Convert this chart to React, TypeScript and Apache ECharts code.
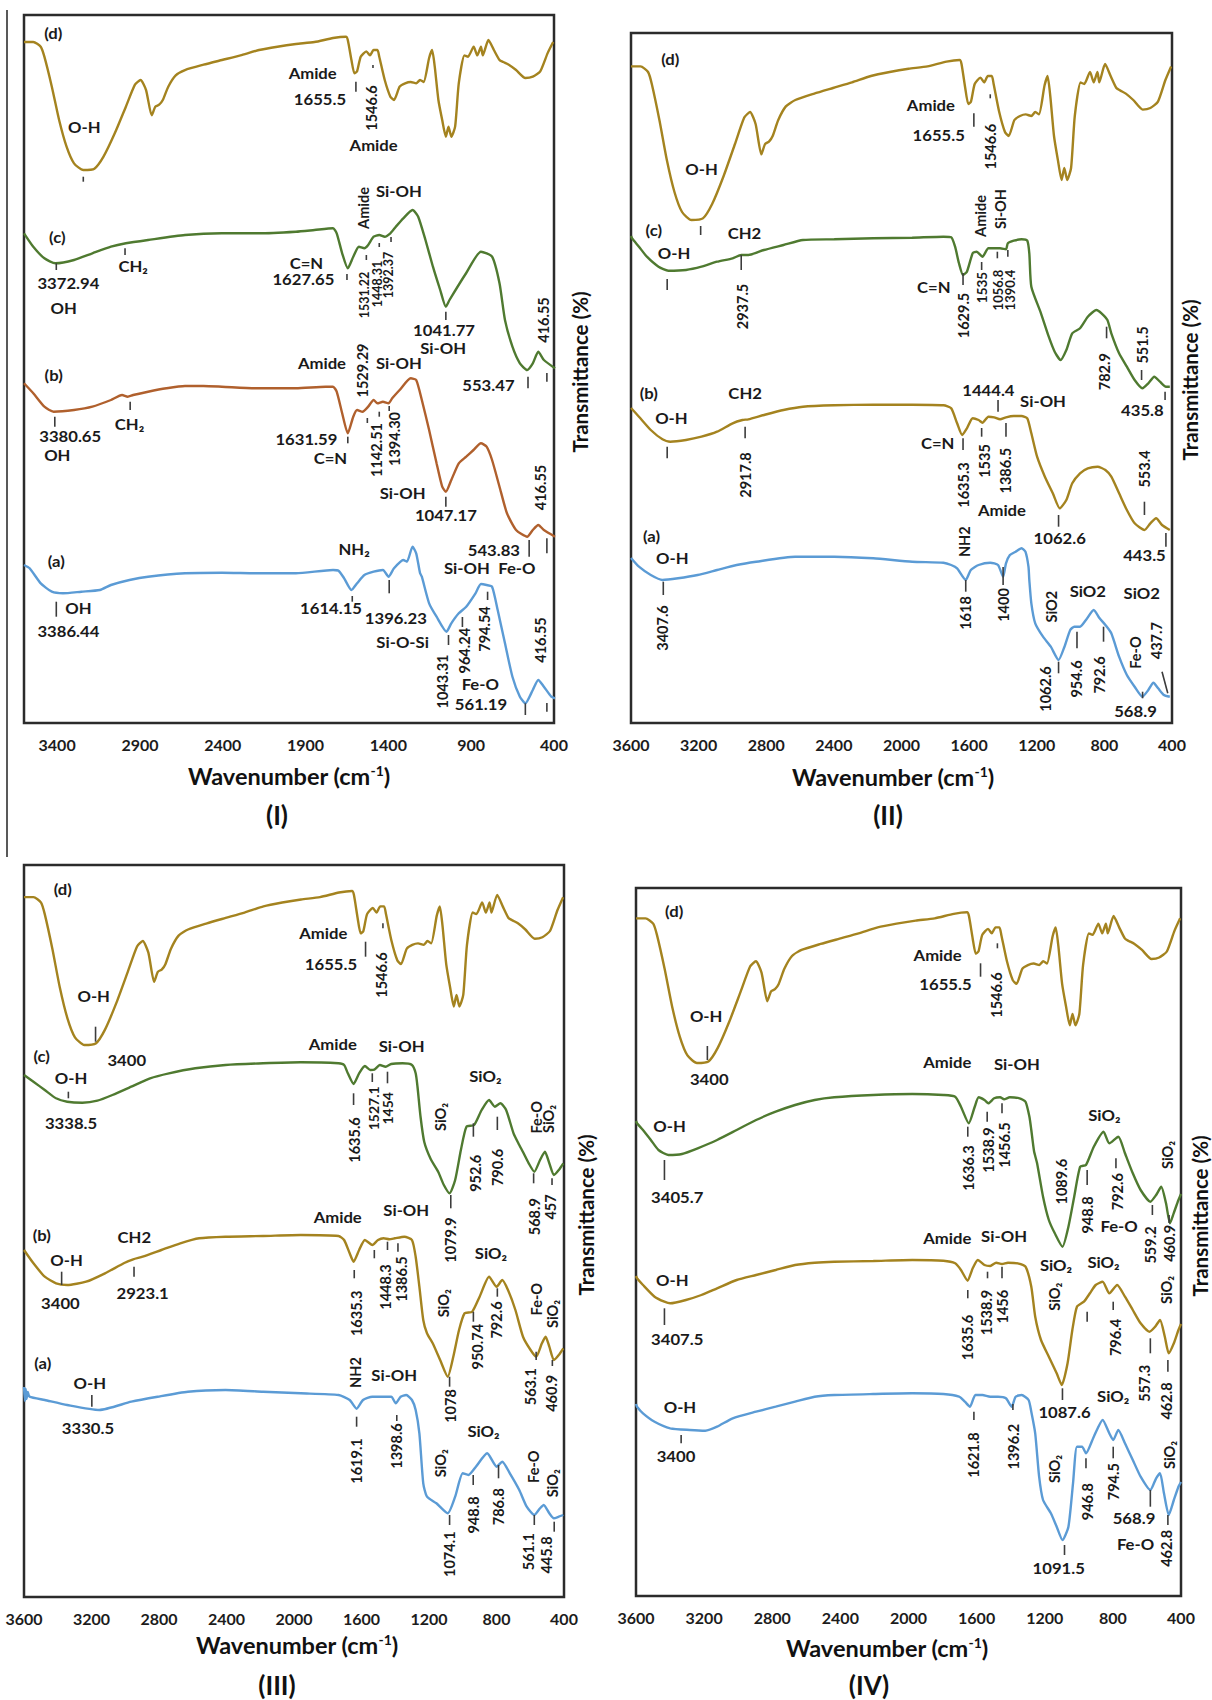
import React, { useEffect, useRef } from "react";
import * as echarts from "echarts";

const FONT = "Lato, 'Open Sans', sans-serif";
const GOLD = "#A4831F";
const GREEN = "#4F7A30";
const BROWN = "#B0602D";
const BLUE = "#5B9BD5";

// shared spectrum (d): relative transmittance 0..100 vs wavenumber
const specD = [
  [3600, 96], [3544, 96], [3499, 92.5], [3477, 85], [3432, 62.5], [3388, 37.5], [3343, 17.5], [3298, 5], [3242, 0], [3175, 1],
  [3120, 10], [3052, 27.5], [2985, 47.5], [2930, 64], [2896, 67.5], [2863, 60], [2829, 41], [2807, 47.5], [2784, 49], [2762, 52.5],
  [2729, 62.5], [2684, 71], [2628, 75], [2516, 79], [2405, 82.5], [2293, 86], [2181, 90], [2070, 92.5], [1958, 94.5], [1846, 96],
  [1734, 99], [1656, 100], [1645, 97.5], [1623, 82.5], [1605, 72.5], [1589, 74], [1567, 85], [1533, 89], [1511, 86], [1489, 90],
  [1466, 90], [1455, 85], [1422, 67.5], [1388, 55], [1366, 52.5], [1332, 62.5], [1299, 65], [1265, 66], [1232, 65], [1209, 67.5],
  [1187, 66], [1154, 84], [1136, 90], [1120, 77.5], [1098, 52.5], [1075, 37.5], [1053, 25], [1037, 32.5], [1020, 25], [997, 32.5],
  [975, 65], [941, 86], [919, 85], [885, 92.5], [863, 86], [841, 92.5], [830, 86], [796, 97.5], [763, 90], [729, 82.5],
  [707, 81], [673, 79], [629, 75], [573, 69], [528, 70], [483, 74], [439, 87.5], [405, 96],
];
const dOffset = [553, 503, 552, 533];
const dScale = [1.333, 1.6, 1.54, 1.507];

// Panel I
const p1c = [
  [3600, 489.7], [3544, 476.3], [3477, 464.7], [3410, 459.7], [3298, 463], [3187, 469.7], [3075, 476.3], [2985, 479.7], [2851, 483], [2628, 488],
  [2405, 489.7], [2181, 489.7], [1958, 491.3], [1846, 493], [1734, 494.7], [1712, 489.7], [1679, 469.7], [1645, 454.7], [1612, 466.3], [1578, 476.3],
  [1545, 474.7], [1522, 478], [1489, 486.3], [1455, 488], [1422, 486.3], [1388, 489.7], [1355, 496.3], [1310, 504.7], [1254, 513], [1220, 506.3],
  [1176, 483], [1131, 456.3], [1087, 433], [1053, 416.3], [1031, 423], [930, 450], [841, 471.3], [774, 466.3], [729, 439.7], [696, 403],
  [651, 376.3], [606, 359.7], [562, 353], [528, 359.7], [495, 371.3], [461, 363], [394, 354.7],
];
const p1b = [
  [3600, 339.7], [3544, 329.7], [3477, 316.3], [3421, 311.3], [3298, 313], [3187, 316.3], [3075, 323], [3008, 328], [2974, 326.3], [2941, 328],
  [2851, 331.3], [2740, 334.7], [2628, 337], [2516, 337], [2405, 336.3], [2181, 334.7], [1958, 334.7], [1779, 336.3], [1734, 336.3], [1712, 331.3],
  [1679, 309.7], [1645, 289.7], [1612, 306.3], [1589, 313], [1556, 311.3], [1522, 316.3], [1489, 323], [1466, 319.7], [1433, 321.3], [1399, 319.7],
  [1377, 324.7], [1332, 333], [1265, 344.7], [1232, 343], [1198, 323], [1154, 293], [1109, 259.7], [1075, 236.3], [1053, 231.3], [1020, 243],
  [975, 259.7], [930, 266.3], [886, 273], [841, 279.7], [807, 276.3], [774, 263], [729, 236.3], [684, 209.7], [629, 193], [562, 186.3],
  [528, 193], [495, 198], [461, 193], [394, 186.3],
];
const p1a = [
  [3600, 158], [3566, 154.7], [3499, 139.7], [3432, 131.3], [3365, 129.7], [3254, 131.3], [3142, 133], [3075, 138], [2963, 143], [2851, 146.3],
  [2628, 149.7], [2405, 150.3], [2181, 149.7], [1958, 149.7], [1734, 153], [1701, 152.3], [1667, 144.7], [1623, 133], [1589, 139.7], [1545, 148],
  [1489, 151.3], [1433, 153], [1399, 146.3], [1366, 154.7], [1310, 163], [1288, 161.3], [1254, 176.3], [1232, 169.7], [1209, 150], [1198, 146.3],
  [1154, 119.7], [1109, 106.3], [1049, 91.3], [1020, 99.7], [975, 109.7], [930, 116.3], [874, 129.7], [841, 139], [807, 138], [774, 136.3],
  [740, 113], [696, 79.7], [651, 46.3], [606, 26.3], [573, 19.7], [528, 33], [495, 43], [461, 36.3], [416, 26.3], [394, 24.7],
];

// Panel II
const p2c = [
  [3600, 487], [3594, 484.7], [3553, 476.3], [3506, 466.3], [3437, 456.3], [3379, 452.3], [3275, 453], [3183, 456.3], [3091, 461.3], [2999, 464.7],
  [2948, 468], [2906, 468], [2814, 473], [2698, 478], [2583, 483], [2398, 483.7], [2167, 484.7], [1937, 485.3], [1752, 486.3], [1706, 485.7],
  [1683, 476.3], [1660, 459.7], [1636, 448], [1613, 451.3], [1579, 469.7], [1556, 471.3], [1521, 466.3], [1486, 474.7], [1452, 474.7], [1417, 474.7],
  [1382, 473.7], [1371, 479.7], [1336, 482.3], [1290, 483.7], [1256, 482.3], [1244, 469.7], [1232, 436.3], [1175, 409.7], [1129, 386.3], [1094, 371.3],
  [1059, 363], [1025, 373], [990, 389.7], [944, 394.7], [898, 406.3], [847, 413], [817, 409.7], [782, 403], [759, 389.7], [713, 369.7],
  [667, 356.3], [621, 343], [575, 334.7], [540, 339.7], [505, 346.3], [471, 341.3], [436, 336.3], [413, 336.3],
];
const p2b = [
  [3600, 315], [3553, 306.3], [3483, 293], [3414, 283.7], [3368, 281.3], [3275, 283], [3183, 286.3], [3091, 291.3], [2999, 299.7], [2941, 303],
  [2906, 303.7], [2814, 308], [2698, 313], [2583, 316.3], [2398, 317.7], [2167, 318.3], [1937, 318.3], [1752, 317.7], [1706, 314.7], [1671, 299.7],
  [1641, 288], [1613, 294.7], [1579, 304.7], [1544, 303], [1521, 300.3], [1486, 306.3], [1452, 305.7], [1417, 303.7], [1382, 305.7], [1336, 307],
  [1290, 307], [1256, 304.7], [1232, 289.7], [1198, 266.3], [1152, 246.3], [1105, 229.7], [1064, 214.7], [1025, 223], [990, 239.7], [944, 249.7],
  [898, 254.7], [840, 256.3], [794, 253], [759, 246.3], [713, 229.7], [667, 213], [621, 199.7], [563, 193], [528, 199.7], [494, 204.7],
  [459, 198], [413, 193],
];
const p2a = [
  [3600, 165], [3553, 156.3], [3483, 148], [3414, 143], [3322, 144.7], [3206, 148], [3091, 153], [2975, 158], [2860, 161.3], [2629, 166.3],
  [2398, 166.3], [2167, 164.7], [1937, 161.3], [1752, 160.3], [1706, 158], [1671, 154.7], [1620, 143], [1590, 153], [1544, 158], [1475, 160.3],
  [1429, 158], [1399, 146.3], [1382, 159.7], [1359, 168], [1325, 171.3], [1290, 174.7], [1267, 171.3], [1249, 156.3], [1244, 143], [1232, 119.7],
  [1209, 99.7], [1163, 86.3], [1117, 76.3], [1071, 63], [1036, 76.3], [1002, 93], [978, 96.3], [944, 96.3], [909, 103], [863, 113],
  [828, 104.7], [794, 98], [759, 89.7], [713, 66.3], [667, 48], [621, 36.3], [575, 26.3], [540, 33], [510, 40.3], [482, 34.7],
  [448, 28], [413, 26.3],
];

// Panel III
const p3c = [
  [3600, 522], [3544, 515.3], [3477, 507], [3410, 498.7], [3344, 495.3], [3254, 494.3], [3165, 496.3], [3076, 502], [2964, 510.3], [2853, 518.7],
  [2741, 523.7], [2585, 528.7], [2406, 532], [2183, 533.7], [1960, 534.7], [1736, 533.7], [1703, 532], [1681, 523.7], [1647, 513], [1614, 523.7],
  [1580, 531], [1547, 527], [1524, 527.3], [1491, 532], [1457, 530.3], [1424, 533], [1357, 533.7], [1301, 532], [1279, 523.7], [1268, 510],
  [1250, 480], [1228, 455], [1190, 438], [1145, 425], [1112, 412], [1078, 403.7], [1045, 417], [1011, 447], [978, 470.3], [933, 472],
  [888, 487], [844, 497], [810, 490.3], [777, 493.7], [743, 487], [699, 463.7], [665, 452], [643, 445], [609, 433.7], [576, 425.3],
  [542, 437], [513, 445.3], [487, 433.7], [460, 422], [431, 427], [404, 433.7],
];
const p3b = [
  [3600, 347], [3544, 333.7], [3477, 320.3], [3410, 313.7], [3344, 312], [3232, 315.3], [3120, 323.7], [3009, 333.7], [2953, 337.7], [2897, 340.3],
  [2786, 347], [2674, 353.7], [2562, 358.7], [2406, 360.3], [2183, 361], [1960, 362], [1736, 361], [1703, 357], [1670, 343.7], [1647, 335.3],
  [1614, 347], [1580, 357], [1536, 352], [1502, 357], [1469, 358.7], [1435, 357.7], [1402, 358.7], [1346, 360.3], [1301, 357], [1279, 340.3],
  [1257, 310.3], [1234, 277], [1212, 263.7], [1178, 253.7], [1134, 237], [1089, 220.3], [1056, 240.3], [1022, 267], [989, 283.7], [944, 285.3],
  [900, 300.3], [844, 320.3], [799, 310.3], [766, 317], [732, 307], [688, 287], [643, 260.3], [598, 247], [565, 240.3], [531, 253.7],
  [509, 260.3], [487, 250.3], [460, 237], [431, 242], [404, 248.7],
];
const p3a = [
  [3600, 210], [3595, 196], [3590, 208], [3585, 198], [3578, 205], [3567, 200.3], [3477, 197], [3344, 192], [3154, 187], [2964, 195.3],
  [2808, 200.3], [2629, 205.3], [2406, 207], [2183, 205.3], [1960, 203.7], [1736, 202], [1670, 197], [1629, 188.3], [1591, 197], [1536, 200.3],
  [1424, 200.3], [1397, 193.7], [1368, 200.3], [1335, 202], [1301, 197], [1279, 187], [1257, 163.7], [1234, 113.7], [1212, 100.3], [1156, 93.7],
  [1089, 83.7], [1045, 100.3], [1000, 123.7], [966, 122], [922, 130.3], [855, 143.7], [799, 130.3], [766, 135.3], [721, 123.7], [665, 107],
  [621, 90.3], [576, 82], [542, 88.7], [520, 92], [487, 83.7], [460, 78.7], [431, 80.3], [404, 82],
];

// Panel IV
const p4c = [
  [3600, 475], [3594, 472.7], [3559, 466], [3513, 456], [3468, 446], [3410, 441], [3330, 442], [3238, 447.7], [3124, 456], [3009, 466],
  [2895, 476], [2780, 484.3], [2666, 491], [2551, 496], [2436, 498.7], [2207, 501], [1978, 502], [1795, 501], [1726, 499.3], [1692, 489.3],
  [1646, 472.7], [1611, 489.3], [1588, 498.7], [1554, 496], [1531, 492.7], [1497, 497.7], [1462, 498.7], [1439, 496.7], [1405, 498.7], [1348, 497.7],
  [1313, 494.3], [1290, 479.3], [1279, 466], [1263, 445], [1245, 432.7], [1210, 399.3], [1176, 376], [1141, 362.7], [1096, 349.3], [1061, 369.3],
  [1027, 399.3], [992, 429.3], [958, 431], [912, 449.3], [855, 464.3], [821, 452.7], [768, 459.3], [729, 442.7], [683, 422.7], [637, 406],
  [580, 394.3], [546, 401], [516, 409.3], [488, 392.7], [465, 372.7], [443, 382.7], [415, 396], [400, 402],
];
const p4b = [
  [3600, 320], [3594, 317.7], [3559, 311], [3491, 299.3], [3433, 294.3], [3399, 292.7], [3307, 296], [3216, 301], [3124, 307.7], [3009, 316],
  [2895, 321], [2780, 326], [2666, 331], [2551, 333.3], [2436, 334.3], [2207, 335], [1978, 336], [1795, 335.3], [1726, 332.7], [1692, 326],
  [1653, 315.3], [1623, 327.7], [1593, 336], [1554, 331], [1520, 330], [1485, 333.3], [1451, 332], [1416, 333.3], [1359, 332.7], [1313, 329.3],
  [1279, 309.3], [1256, 279.3], [1222, 256], [1176, 239.3], [1130, 222.7], [1100, 211], [1066, 232.7], [1038, 266], [1011, 289.3], [970, 294.3],
  [935, 302.7], [901, 311], [860, 314.3], [821, 302.7], [775, 311], [729, 299.3], [683, 286], [637, 272.7], [585, 264.3], [552, 269.3],
  [523, 276], [495, 259.3], [472, 242.7], [442, 252.7], [415, 266], [400, 272],
];
const p4a = [
  [3600, 192], [3594, 189.3], [3559, 182.7], [3491, 174.3], [3399, 167.7], [3284, 166], [3193, 165.3], [3124, 169.3], [3032, 177.7], [2895, 184.3],
  [2780, 189.3], [2666, 194.3], [2551, 199.3], [2436, 201], [2207, 202], [1978, 202.7], [1795, 202], [1703, 199.3], [1669, 194.3], [1639, 189.3],
  [1607, 201], [1566, 201], [1520, 199.3], [1474, 199.3], [1428, 197.7], [1394, 189.3], [1371, 199.3], [1336, 201], [1295, 196], [1279, 184.3],
  [1256, 162.7], [1233, 119.3], [1210, 96], [1164, 82.7], [1130, 69.3], [1096, 56], [1061, 69.3], [1034, 112.7], [1011, 149.3], [981, 149.3],
  [958, 142.7], [912, 159.3], [860, 176], [821, 162.7], [798, 156], [768, 166], [729, 152.7], [683, 136], [637, 119.3], [580, 106],
  [546, 117.7], [523, 122.7], [500, 102.7], [472, 81], [442, 96], [415, 109.3], [400, 114],
];

// annotations: [text, wavenumber, height, rotated, fontSize?]
const labels1 = [
  ["(d)", 3423, 689.7, 0], ["Amide", 1857, 649.7, 0], ["1655.5", 1813, 624, 0], ["1546.6", 1500, 615, 1], ["Amide", 1489, 578, 0],
  ["O-H", 3236, 595.7, 0], ["Amide", 1549, 515, 1], ["Si-OH", 1337, 531.3, 0], ["(c)", 3399, 485.7, 0], ["3372.94", 3332, 439.7, 0],
  ["CH₂", 2941, 456.3, 0], ["C=N", 1895, 459.7, 0], ["1627.65", 1913, 444, 0], ["1531.22", 1547, 428, 1, 12.5], ["1448.31", 1466, 439, 1, 12.5],
  ["1392.37", 1398, 448, 1, 12.5], ["OH", 3361, 414.7, 0], ["1041.77", 1064, 393, 0], ["Si-OH", 1069, 374.7, 0], ["416.55", 461, 403, 1],
  ["553.47", 796, 338, 0], ["Amide", 1801, 359.7, 0], ["1529.29", 1556, 352.5, 1], ["Si-OH", 1337, 359.7, 0], ["(b)", 3421, 348, 0],
  ["3380.65", 3321, 287, 0], ["OH", 3399, 268, 0], ["CH₂", 2963, 299, 0], ["1631.59", 1895, 283.7, 0], ["C=N", 1750, 264.7, 0],
  ["1142.51", 1471, 273, 1], ["1394.30", 1366, 284, 1], ["Si-OH", 1314, 229.7, 0], ["1047.17", 1053, 208, 0], ["416.55", 483, 235.5, 1],
  ["543.83", 763, 173, 0], ["NH₂", 1607, 173.7, 0], ["(a)", 3405, 161.3, 0], ["Si-OH", 926, 154.7, 0], ["Fe-O", 624, 154.7, 0],
  ["OH", 3271, 114.7, 0], ["3386.44", 3332, 91.3, 0], ["1614.15", 1746, 114.7, 0], ["1396.23", 1355, 104.7, 0], ["Si-O-Si", 1314, 80.3, 0],
  ["1043.31", 1075, 41.5, 1], ["964.24", 941, 72.3, 1], ["794.54", 819, 94, 1], ["Fe-O", 845, 38.7, 0], ["561.19", 841, 19, 0],
  ["416.55", 483, 83, 1],
];
const ticks1 = [
  [1596, 641.3, 631.3], [1493, 658, 655], [3242, 546.3, 541.3], [3405, 459.7, 453], [2990, 474.7, 468], [1650, 449, 443], [1533, 468, 463],
  [1455, 480, 476], [1384, 486, 481], [1053, 411.3, 403], [557, 346.3, 334.7], [443, 350, 341.3], [3414, 306.3, 296.3], [2959, 321.3, 313],
  [1645, 286.3, 279.7], [1527, 305, 300], [1455, 311.3, 306.3], [1395, 317, 312], [1053, 226.3, 216.3], [550, 183, 166.3], [443, 184.7, 169.7],
  [3405, 121.3, 106.3], [1618, 127, 121.3], [1395, 143, 129.7], [1037, 88, 78], [953, 106, 96], [801, 131.3, 123], [573, 19.7, 8], [443, 20, 11.3],
];

const labels2 = [
  ["(d)", 3368, 663.7, 0], ["Amide", 1826, 618, 0], ["1655.5", 1780, 588, 0], ["1546.6", 1475, 576.3, 1], ["O-H", 3183, 553.7, 0],
  ["(c)", 3465, 493, 0], ["CH2", 2929, 489.7, 0], ["O-H", 3345, 469.7, 0], ["Amide", 1533, 507, 1], ["Si-OH", 1412, 514, 1],
  ["2937.5", 2941, 416.5, 1], ["C=N", 1809, 435.7, 0], ["1629.5", 1632, 407.5, 1], ["1535", 1524, 435.5, 1, 13.5], ["1056.8", 1432, 433, 1, 13],
  ["1390.4", 1360, 433, 1, 13], ["782.9", 801, 351.3, 1], ["551.5", 574, 378, 1], ["435.8", 575, 313, 0], ["(b)", 3495, 329.7, 0],
  ["CH2", 2925, 329.7, 0], ["O-H", 3361, 304.7, 0], ["2917.8", 2925, 248, 1], ["1444.4", 1486, 333, 0], ["Si-OH", 1163, 321.3, 0],
  ["C=N", 1786, 279.7, 0], ["1635.3", 1636, 238, 1], ["1535", 1510, 262, 1], ["1386.5", 1382, 252.3, 1], ["Amide", 1406, 213, 0],
  ["1062.6", 1064, 184.7, 0], ["553.4", 563, 254, 1], ["443.5", 563, 168, 0], ["(a)", 3479, 186.3, 0], ["O-H", 3356, 164.7, 0],
  ["NH2", 1625, 181.3, 1], ["3407.6", 3414, 95, 1], ["1618", 1620, 110, 1], ["1400", 1399, 118, 1], ["SiO2", 1110, 116.3, 1],
  ["SiO2", 898, 131.3, 0], ["SiO2", 579, 129.7, 0], ["954.6", 962, 44, 1], ["792.6", 828, 48, 1], ["1062.6", 1151, 34, 1],
  ["Fe-O", 616, 70.5, 1], ["437.7", 494, 82.3, 1], ["568.9", 616, 11.3, 0],
];
const ticks2 = [
  [1572, 609.7, 596.3], [1475, 628.7, 624.7], [3188, 497, 488], [3386, 444, 433], [2948, 468, 453], [1636, 450, 438], [1526, 461, 453],
  [1433, 471.3, 464.7], [1371, 473, 466.3], [787, 396.3, 384.7], [580, 353, 343], [441, 331.3, 323], [3386, 276.3, 264.7], [2925, 296.3, 284.7],
  [1429, 323, 311.3], [1636, 284.7, 273], [1526, 295, 286.3], [1382, 300, 286.3], [1071, 208, 196.3], [563, 221.3, 208], [436, 190, 176.3],
  [3409, 141.3, 128], [1620, 143, 131.3], [1399, 156, 138], [962, 91.3, 74.7], [805, 96.3, 81.3], [1071, 61.3, 49.7], [574, 31.3, 24.7],
  [459, 51.3, 425, 29.7],
];

const labels3 = [
  ["(d)", 3370, 707.7, 0], ["Amide", 1826, 663.7, 0], ["1655.5", 1781, 633, 0], ["1546.6", 1480, 622, 1], ["O-H", 3187, 600.3, 0],
  ["3400", 2991, 537, 0], ["Amide", 1770, 553, 0], ["Si-OH", 1362, 550.3, 0], ["(c)", 3495, 541, 0], ["O-H", 3321, 518.7, 0],
  ["3338.5", 3321, 473.7, 0], ["1635.6", 1643, 457, 1], ["1527.1", 1527, 488.7, 1, 14], ["1454", 1444, 488.7, 1, 14], ["SiO₂", 1129, 480, 1],
  ["SiO₂", 866, 521, 0], ["Fe-O", 565, 479.7, 1], ["SiO₂", 491, 478, 1], ["952.6", 922, 423.7, 1], ["790.6", 795, 429.5, 1],
  ["1079.9", 1071, 357, 1], ["568.9", 576, 380.3, 1], ["457", 482, 390, 1], ["Amide", 1741, 379.7, 0], ["Si-OH", 1335, 386.3, 0],
  ["(b)", 3495, 362, 0], ["CH2", 2946, 359.7, 0], ["O-H", 3348, 337, 0], ["3400", 3384, 293.7, 0], ["2923.1", 2897, 303.7, 0],
  ["1635.3", 1630, 283.7, 1], ["1448.3", 1458, 310, 1], ["1386.5", 1362, 318, 1], ["SiO₂", 1112, 293.7, 1], ["SiO₂", 833, 343.7, 0],
  ["950.74", 915, 250.3, 1], ["792.6", 799, 277, 1], ["Fe-O", 565, 297.8, 1], ["SiO₂", 469, 283, 1], ["1078", 1071, 191, 1],
  ["563.1", 598, 210.3, 1], ["460.9", 475, 203.7, 1], ["(a)", 3489, 233.7, 0], ["O-H", 3210, 213.7, 0], ["NH2", 1636, 224.5, 1],
  ["Si-OH", 1406, 222, 0], ["3330.5", 3221, 168.7, 0], ["1619.1", 1629, 136, 1], ["1398.6", 1391, 151, 1], ["SiO₂", 1129, 133.7, 1],
  ["SiO₂", 877, 165.3, 0], ["1074.1", 1078, 42.8, 1], ["948.8", 938, 82, 1], ["786.8", 788, 90.3, 1], ["Fe-O", 580, 130.3, 1],
  ["SiO₂", 471, 113.7, 1], ["561.1", 610, 45.3, 1], ["445.8", 505, 42, 1],
];
const ticks3 = [
  [1576, 655.3, 640.3], [1473, 673.7, 668.7], [3176, 570.3, 555.3], [3337, 505.3, 498.7], [1647, 503.7, 492], [1536, 523.7, 515],
  [1446, 525.3, 513.7], [937, 473.7, 460.3], [795, 480.3, 467], [1071, 402, 388.7], [580, 423.7, 413.7], [471, 418.7, 412],
  [3377, 325.3, 312], [2948, 330.3, 320.3], [1643, 327, 318.7], [1524, 347, 338.7], [1446, 355.3, 347], [1384, 353.7, 345.3],
  [937, 285.3, 275.3], [795, 308.7, 300.3], [1078, 220.3, 210.3], [565, 245.3, 237], [469, 237, 231], [3198, 202, 190.3],
  [1629, 180.3, 170.3], [1391, 182, 176], [1078, 82, 72], [938, 122, 112], [788, 132, 118.7], [576, 82, 72], [458, 75.3, 65.3],
];

const labels4 = [
  ["(d)", 3376, 684.3, 0], ["Amide", 1829, 640.3, 0], ["1655.5", 1783, 612, 0], ["1546.6", 1485, 601, 1], ["O-H", 3188, 580, 0],
  ["3400", 3170, 517, 0], ["Amide", 1772, 533.7, 0], ["Si-OH", 1364, 532, 0], ["O-H", 3403, 469.3, 0], ["1636.3", 1646, 428, 1],
  ["1538.9", 1531, 446, 1], ["1456.5", 1439, 451, 1], ["SiO₂", 850, 480.3, 0], ["SiO₂", 477, 441, 1], ["3405.7", 3358, 398.7, 0],
  ["1089.6", 1102, 414.3, 1], ["948.8", 947, 381, 1], ["792.6", 775, 404.3, 1], ["Fe-O", 763, 369.3, 0], ["559.2", 580, 351, 1],
  ["460.9", 470, 352.7, 1], ["Amide", 1772, 357.7, 0], ["Si-OH", 1439, 360, 0], ["O-H", 3387, 315.3, 0], ["3407.5", 3358, 256.7, 0],
  ["1635.6", 1652, 258.5, 1], ["1538.9", 1543, 283.5, 1], ["1456", 1446, 289.3, 1], ["SiO₂", 1134, 331, 0], ["SiO₂", 855, 333.3, 0],
  ["SiO₂", 1141, 299.3, 1], ["796.4", 786, 258.5, 1], ["SiO₂", 484, 306, 1], ["557.3", 614, 212.7, 1], ["462.8", 488, 195, 1],
  ["1087.6", 1084, 183.3, 0], ["SiO₂", 798, 199.3, 0], ["O-H", 3342, 188.7, 0], ["3400", 3365, 139.3, 0], ["1621.8", 1616, 141, 1],
  ["1396.2", 1382, 149.3, 1], ["SiO₂", 1141, 127, 1], ["946.8", 951, 94.3, 1], ["794.5", 798, 114.3, 1], ["568.9", 676, 77.7, 0],
  ["Fe-O", 667, 52, 0], ["SiO₂", 470, 141, 1], ["462.8", 488, 47.7, 1], ["1091.5", 1118, 27.7, 0],
];
const ticks4 = [
  [1577, 632.7, 619.3], [1478, 652.7, 647.7], [3181, 550, 536], [1652, 469.3, 459.3], [1538, 484.3, 474.3], [1451, 492.7, 482.7],
  [3433, 436, 416], [951, 426, 411], [782, 437.7, 427.7], [568, 391, 381], [470, 381, 373], [3433, 287.7, 271], [1652, 306, 297.7],
  [1536, 324.3, 317.7], [1451, 329.3, 317.7], [951, 284.3, 274.3], [798, 294.3, 286], [580, 257.7, 242.7], [477, 236, 224.3],
  [1096, 207.7, 196], [3335, 161, 152.7], [1616, 184.3, 176], [1387, 192, 186], [958, 137.7, 127.7], [798, 149.3, 137.7],
  [580, 106, 89.3], [477, 81, 71], [1084, 51, 41],
];

const xTickLabelsI = [400, 900, 1400, 1900, 2400, 2900, 3400];

type Lab = (string | number)[];

const panels = [
  { grid: { left: 24, top: 15, width: 530, height: 708 }, interval: 100, series: [p1c, p1b, p1a], colors: [GREEN, BROWN, BLUE], labels: labels1, ticks: ticks1 },
  { grid: { left: 631, top: 33, width: 541, height: 690 }, interval: 400, series: [p2c, p2b, p2a], colors: [GREEN, GOLD, BLUE], labels: labels2, ticks: ticks2 },
  { grid: { left: 24, top: 865, width: 540, height: 732 }, interval: 400, series: [p3c, p3b, p3a], colors: [GREEN, GOLD, BLUE], labels: labels3, ticks: ticks3 },
  { grid: { left: 636, top: 888, width: 545, height: 708 }, interval: 400, series: [p4c, p4b, p4a], colors: [GREEN, GOLD, BLUE], labels: labels4, ticks: ticks4 },
];

const titles = [[289, 776], [893, 777], [297, 1645], [887, 1648]];
const numerals = [["(I)", 277, 815], ["(II)", 888, 815], ["(III)", 277, 1685], ["(IV)", 869, 1685]];
const yTitles = [[580, 372], [1190, 380], [586, 1215], [1200, 1216]];

function buildOption() {
  const series: any[] = [];
  panels.forEach((p, i) => {
    series.push({
      type: "line", xAxisIndex: i, yAxisIndex: i, silent: true, showSymbol: false, symbol: "none", smooth: 0.2,
      data: specD.map(([w, t]) => [w, dOffset[i] + dScale[i] * t]),
      lineStyle: { color: GOLD, width: 2.4 }, itemStyle: { color: GOLD }, z: 3,
    });
    p.series.forEach((s, k) => {
      series.push({
        type: "line", xAxisIndex: i, yAxisIndex: i, silent: true, showSymbol: false, symbol: "none", smooth: 0.2,
        data: s, lineStyle: { color: p.colors[k], width: 2.4 }, itemStyle: { color: p.colors[k] }, z: 3,
      });
    });
    const tk = p.ticks.map((t) => (t.length === 3 ? [t[0], t[1], t[0], t[2]] : t));
    series.push({
      type: "custom", xAxisIndex: i, yAxisIndex: i, silent: true, clip: false, z: 4,
      data: tk, encode: { x: [0, 2], y: [1, 3] },
      renderItem: (params: any, api: any) => {
        const a = api.coord([api.value(0), api.value(1)]);
        const b = api.coord([api.value(2), api.value(3)]);
        return { type: "line", shape: { x1: a[0], y1: a[1], x2: b[0], y2: b[1] }, style: { stroke: "#3c3c3c", lineWidth: 1.6 } };
      },
    });
    const labs = p.labels as Lab[];
    series.push({
      type: "custom", xAxisIndex: i, yAxisIndex: i, silent: true, clip: false, z: 5,
      data: labs.map((l) => [l[1], l[2]]), encode: { x: 0, y: 1 },
      renderItem: (params: any, api: any) => {
        const l = labs[params.dataIndex];
        const c = api.coord([l[1], l[2]]);
        const rot = !!l[3];
        const fs = (l[4] as number) || 14.5;
        return {
          type: "text", x: c[0], y: c[1], rotation: rot ? Math.PI / 2 : 0,
          scaleX: rot ? 1 : 1.15,
          style: { text: String(l[0]), fill: "#1a1a1a", fontSize: fs, fontWeight: "bold", fontFamily: FONT, align: "center", verticalAlign: "middle" },
        };
      },
    });
  });

  const graphic: any[] = [
    { type: "line", shape: { x1: 7, y1: 10, x2: 7, y2: 857 }, style: { stroke: "#222", lineWidth: 1.5 } },
  ];
  titles.forEach(([x, y]) => {
    graphic.push({
      type: "text", x, y,
      style: {
        text: "{a|Wavenumber (cm}{s|-1}{a|)}", align: "center", verticalAlign: "middle",
        rich: {
          a: { fontSize: 23.5, fontWeight: "bold", fontFamily: FONT, fill: "#111" },
          s: { fontSize: 14, fontWeight: "bold", fontFamily: FONT, fill: "#111", padding: [0, 0, 12, 0] },
        },
      },
    });
  });
  numerals.forEach(([t, x, y]) => {
    graphic.push({ type: "text", x, y, style: { text: t, fontSize: 26, fontWeight: "bold", fontFamily: FONT, fill: "#111", align: "center", verticalAlign: "middle" } });
  });
  yTitles.forEach(([x, y]) => {
    graphic.push({ type: "text", x, y, rotation: Math.PI / 2, style: { text: "Transmittance (%)", fontSize: 20.5, fontWeight: "bold", fontFamily: FONT, fill: "#111", align: "center", verticalAlign: "middle" } });
  });

  return {
    animation: false,
    backgroundColor: "#ffffff",
    grid: panels.map((p) => ({ ...p.grid, show: true, borderColor: "#2b2b2b", borderWidth: 2.5, backgroundColor: "transparent", containLabel: false })),
    xAxis: panels.map((p, i) => ({
      type: "value", gridIndex: i, inverse: true, min: 400, max: 3600, interval: p.interval,
      axisLine: { show: false }, axisTick: { show: false }, splitLine: { show: false },
      axisLabel: {
        margin: 13, color: "#1c1c1c", fontSize: 16, fontWeight: "bold", fontFamily: FONT,
        formatter: i === 0 ? (v: number) => (xTickLabelsI.includes(v) ? String(v) : "") : (v: number) => String(v),
      },
    })),
    yAxis: panels.map((p, i) => ({ type: "value", gridIndex: i, min: 0, max: p.grid.height, show: false })),
    series,
    graphic,
  };
}

export default function App() {
  const ref = useRef<HTMLDivElement>(null);
  useEffect(() => {
    document.body.style.margin = "0";
    if (!ref.current) return;
    const chart = echarts.init(ref.current, undefined, { renderer: "svg" });
    chart.setOption(buildOption() as any);
    return () => chart.dispose();
  }, []);
  return <div ref={ref} style={{ width: 1212, height: 1700 }} />;
}
